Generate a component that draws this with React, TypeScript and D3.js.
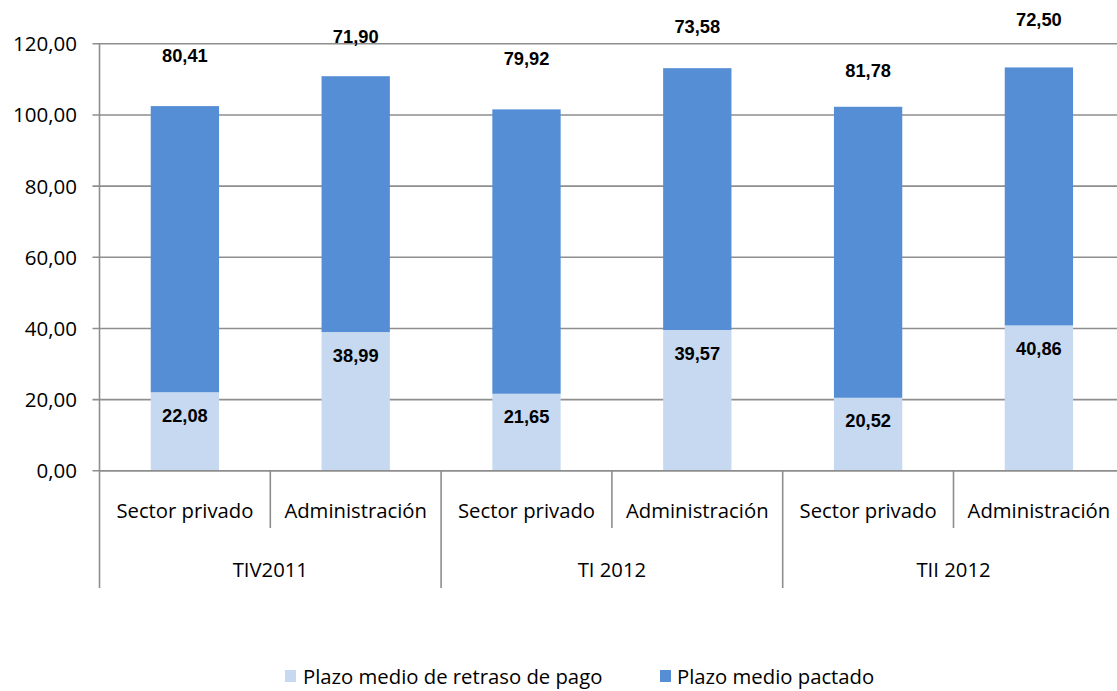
import React from "react";
import * as d3 from "d3";

const groups = ["TIV2011", "TI 2012", "TII 2012"];
const subCategories = ["Sector privado", "Administración"];
const retraso = [22.08, 38.99, 21.65, 39.57, 20.52, 40.86];
const pactado = [80.41, 71.9, 79.92, 73.58, 81.78, 72.5];
// hand-placed label anchors for the "pactado" series (in axis units)
const pactadoLabelAt = [116.7, 122.0, 115.8, 124.8, 112.4, 126.8];
const yTicks = [0, 20, 40, 60, 80, 100, 120];
const seriesNames = ["Plazo medio de retraso de pago", "Plazo medio pactado"];

const W = 1117;
const H = 691;
const LIGHT = "#C6D9F1";
const DARK = "#558ED5";
const GRID = "#8e8e8e";

export default function App() {
  const left = 99.5;
  const step = 170.8;
  const nCat = groups.length * subCategories.length;
  const right = left + step * nCat;
  const y0 = 470.8;
  const y120 = 43.8;

  const y = d3.scaleLinear().domain([0, 120]).range([y0, y120]);
  const x = d3
    .scaleBand<number>()
    .domain(d3.range(nCat))
    .range([left, right])
    .paddingInner(0.6)
    .paddingOuter(0.3);

  const locale = d3.formatLocale({ decimal: ",", thousands: ".", grouping: [3], currency: ["", "€"] });
  const fmt = locale.format(".2f");

  const catFont = "'Open Sans', sans-serif";
  const boldFont = "'Liberation Sans', Arial, sans-serif";

  return (
    <svg
      width={W}
      height={H}
      style={{ position: "absolute", left: 0, top: 0, background: "#fff" }}
    >
      {/* gridlines */}
      {yTicks.map((t) => (
        <line
          key={"g" + t}
          x1={left - 7}
          x2={W}
          y1={y(t)}
          y2={y(t)}
          stroke={GRID}
          strokeWidth={1.6}
        />
      ))}
      {/* y tick labels */}
      {yTicks.map((t) => (
        <text
          key={"yl" + t}
          x={77}
          y={y(t)}
          dy="0.36em"
          textAnchor="end"
          fontFamily={catFont}
          fontSize={20.5}
          fill="#000"
        >
          {fmt(t)}
        </text>
      ))}
      {/* bars */}
      {retraso.map((v, i) => {
        const bx = x(i)!;
        const bw = x.bandwidth();
        const top = v + pactado[i];
        return (
          <g key={"b" + i}>
            <rect x={bx} y={y(v)} width={bw} height={y(0) - y(v)} fill={LIGHT} />
            <rect x={bx} y={y(top)} width={bw} height={y(v) - y(top)} fill={DARK} />
          </g>
        );
      })}
      {/* y axis line */}
      <line x1={left} x2={left} y1={y120} y2={588} stroke={GRID} strokeWidth={1.6} />
      {/* x axis line */}
      <line x1={left} x2={W} y1={y0} y2={y0} stroke={GRID} strokeWidth={1.6} />
      {/* category separators */}
      {d3.range(1, nCat + 1).map((k) => {
        const sx = left + k * step;
        const isGroup = k % subCategories.length === 0;
        return (
          <line
            key={"s" + k}
            x1={sx}
            x2={sx}
            y1={y0}
            y2={isGroup ? 588 : 528}
            stroke={GRID}
            strokeWidth={1.6}
          />
        );
      })}
      {/* category labels */}
      {d3.range(nCat).map((i) => (
        <text
          key={"c" + i}
          x={x(i)! + x.bandwidth() / 2}
          y={511}
          dy="0.36em"
          textAnchor="middle"
          fontFamily={catFont}
          fontSize={20.3}
          fill="#000"
        >
          {subCategories[i % subCategories.length]}
        </text>
      ))}
      {/* group labels */}
      {groups.map((g, gi) => (
        <text
          key={"gr" + gi}
          x={left + (gi + 0.5) * step * subCategories.length}
          y={570}
          dy="0.36em"
          textAnchor="middle"
          fontFamily={catFont}
          fontSize={20.3}
          fill="#000"
        >
          {g}
        </text>
      ))}
      {/* retraso labels (inside end) */}
      {retraso.map((v, i) => (
        <text
          key={"lr" + i}
          x={x(i)! + x.bandwidth() / 2}
          y={y(v) + 23}
          dy="0.36em"
          textAnchor="middle"
          fontFamily={boldFont}
          fontWeight="bold"
          fontSize={18.3}
          fill="#000"
        >
          {fmt(v)}
        </text>
      ))}
      {/* pactado labels */}
      {pactado.map((v, i) => (
        <text
          key={"lp" + i}
          x={x(i)! + x.bandwidth() / 2}
          y={y(pactadoLabelAt[i])}
          dy="0.36em"
          textAnchor="middle"
          fontFamily={boldFont}
          fontWeight="bold"
          fontSize={18.3}
          fill="#000"
        >
          {fmt(v)}
        </text>
      ))}
      {/* legend */}
      <rect x={285} y={670} width={11} height={12} fill={LIGHT} />
      <text x={303} y={677} dy="0.36em" fontFamily={catFont} fontSize={20.3} fill="#000">
        {seriesNames[0]}
      </text>
      <rect x={660} y={670} width={11} height={12} fill={DARK} />
      <text x={677} y={677} dy="0.36em" fontFamily={catFont} fontSize={20.3} fill="#000">
        {seriesNames[1]}
      </text>
    </svg>
  );
}
